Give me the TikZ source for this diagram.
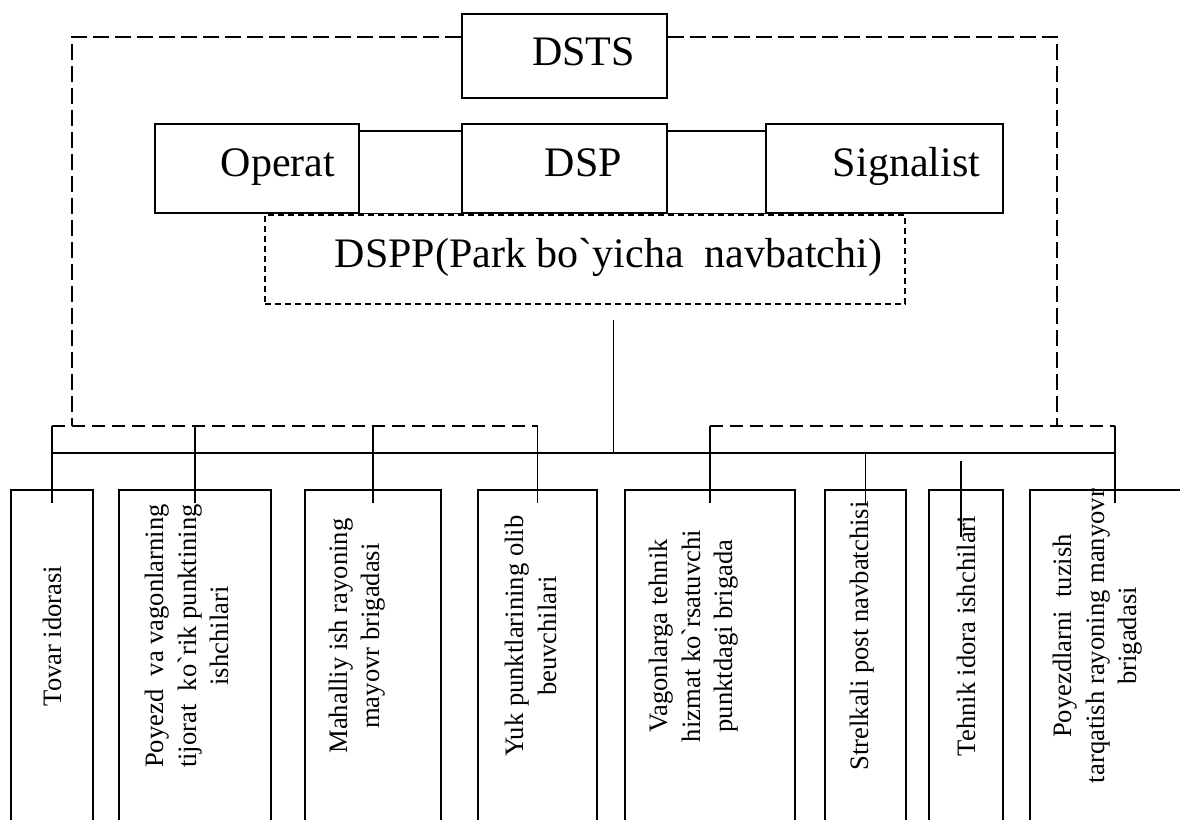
\documentclass[tikz,border=0pt]{standalone}
\usepackage{fontspec}
\usepackage{tikz}
\usetikzlibrary{positioning}
\newfontfamily\uzfont{Liberation Serif}

\begin{document}
\begin{tikzpicture}[x=0.5pt,y=-0.5pt,line width=0.65pt,
  topbox/.style={draw, inner sep=0pt},
  vbox/.style={draw, inner sep=0pt, minimum height=175pt},
  lbl/.style={inner sep=0pt, anchor=base east, font=\uzfont\fontsize{21}{25}\selectfont},
  vtext/.style={rotate=90, align=center, inner sep=0pt,
    font=\uzfont\fontsize{13.3}{16.25}\selectfont,
    execute at begin node=\hspace*{20pt}},
  dashline/.style={dash pattern=on 8pt off 3pt},
  dashbus/.style={dash pattern=on 6.5pt off 3.5pt},
  dashdspp/.style={dash pattern=on 3pt off 2pt}]

\useasboundingbox (0,0) rectangle (1180,820);
\clip (0,0) rectangle (1180,820);

% top row
\node[topbox, minimum width=102.5pt, minimum height=42pt] (dsts) at (564.5,56) {};
\node[lbl] (dststxt) at ([xshift=-16pt,yshift=-4.5pt]dsts.east) {DSTS};

\node[topbox, minimum width=102pt, minimum height=44.5pt] (operat) at (257,168.5) {};
\node[topbox, minimum width=102.5pt, minimum height=44.5pt] (dsp) at (564.5,168.5) {};
\node[topbox, minimum width=118.5pt, minimum height=44.5pt] (signalist) at (884.5,168.5) {};
\node[lbl] (operattxt) at ([xshift=-12pt,yshift=-3.75pt]operat.east) {Operat};
\node[lbl] (dsptxt) at ([xshift=-22.5pt,yshift=-3.75pt]dsp.east) {DSP};
\node[lbl] (signaltxt) at ([xshift=-11.5pt,yshift=-3.75pt]signalist.east) {Signalist};

\node[topbox, dashdspp, minimum width=320pt, minimum height=44.5pt] (dspp) at (585,259.5) {};
\node[lbl] (dspptxt) at ([xshift=-11.5pt,yshift=-3.75pt]dspp.east) {DSPP(Park bo`yicha\ \ navbatchi)};

\coordinate (ct) at (0,131);
\draw (operat.east |- ct) -- (dsp.west |- ct) (dsp.east |- ct) -- (signalist.west |- ct);
\draw (operat.south east) -- (dsp.south west) (dsp.south east) -- (signalist.south west);

% bottom boxes
\foreach \n/\cx/\w in {b1/52/41pt, b2/195/76pt, b3/373/68pt, b4/537.5/59.5pt,
                        b5/710/85pt, b6/865.5/40.5pt, b7/966/37pt, b8/1115/85pt}
  \node[vbox, minimum width=\w] (\n) at (\cx,665) {};

\node[vtext] (t1) at (52,656) {Tovar idorasi};
\node[vtext] (t2) at (187,656) {Poyezd\ \ va vagonlarning\\tijorat\ \ ko`rik punktining\\ishchilari};
\node[vtext] (t3) at (357,656) {Mahalliy ish rayoning\\mayovr brigadasi};
\node[vtext] (t4) at (531,656) {Yuk punktlarining olib\\beuvchilari};
\node[vtext] (t5) at (694,656) {Vagonlarga tehnik\\hizmat ko`rsatuvchi\\punktdagi brigada};
\node[vtext] (t6) at (862,656) {Strelkali post navbatchisi};
\node[vtext] (t7) at (966,656) {Tehnik idora ishchilari};
\node[vtext] (t8) at (1098,656) {Poyezdlarni\ \ tuzish\\tarqatish rayoning manyovr\\brigadasi};

% connectors
\coordinate (dl) at (0,426);
\coordinate (bus) at (0,453);
\coordinate (ol) at (72,37);
\coordinate (or) at (1057,37);
\coordinate (tp) at (613.5,320);

\draw[dashline] (dsts.west |- ol) -- (ol) -- (ol |- dl);
\draw[dashline] (dsts.east |- or) -- (or) -- (or |- dl);
\draw (tp) -- (tp |- bus);

\draw (b1.north |- bus) -- (b8.north |- bus);
\draw[dashbus] (b1.north |- dl) -- (b4.north |- dl);
\draw[dashbus] (b5.north |- dl) -- (b8.north |- dl);
\foreach \n in {b1,b2,b3,b4,b5,b8}
  \draw (\n.north |- dl) -- ([yshift=-7pt]\n.north);
\draw (b6.north |- bus) -- ([yshift=-7.5pt]b6.north);
\draw ([xshift=-2.5pt,yshift=14pt]b7.north) -- ([xshift=-2.5pt,yshift=-24pt]b7.north);
\end{tikzpicture}
\end{document}
